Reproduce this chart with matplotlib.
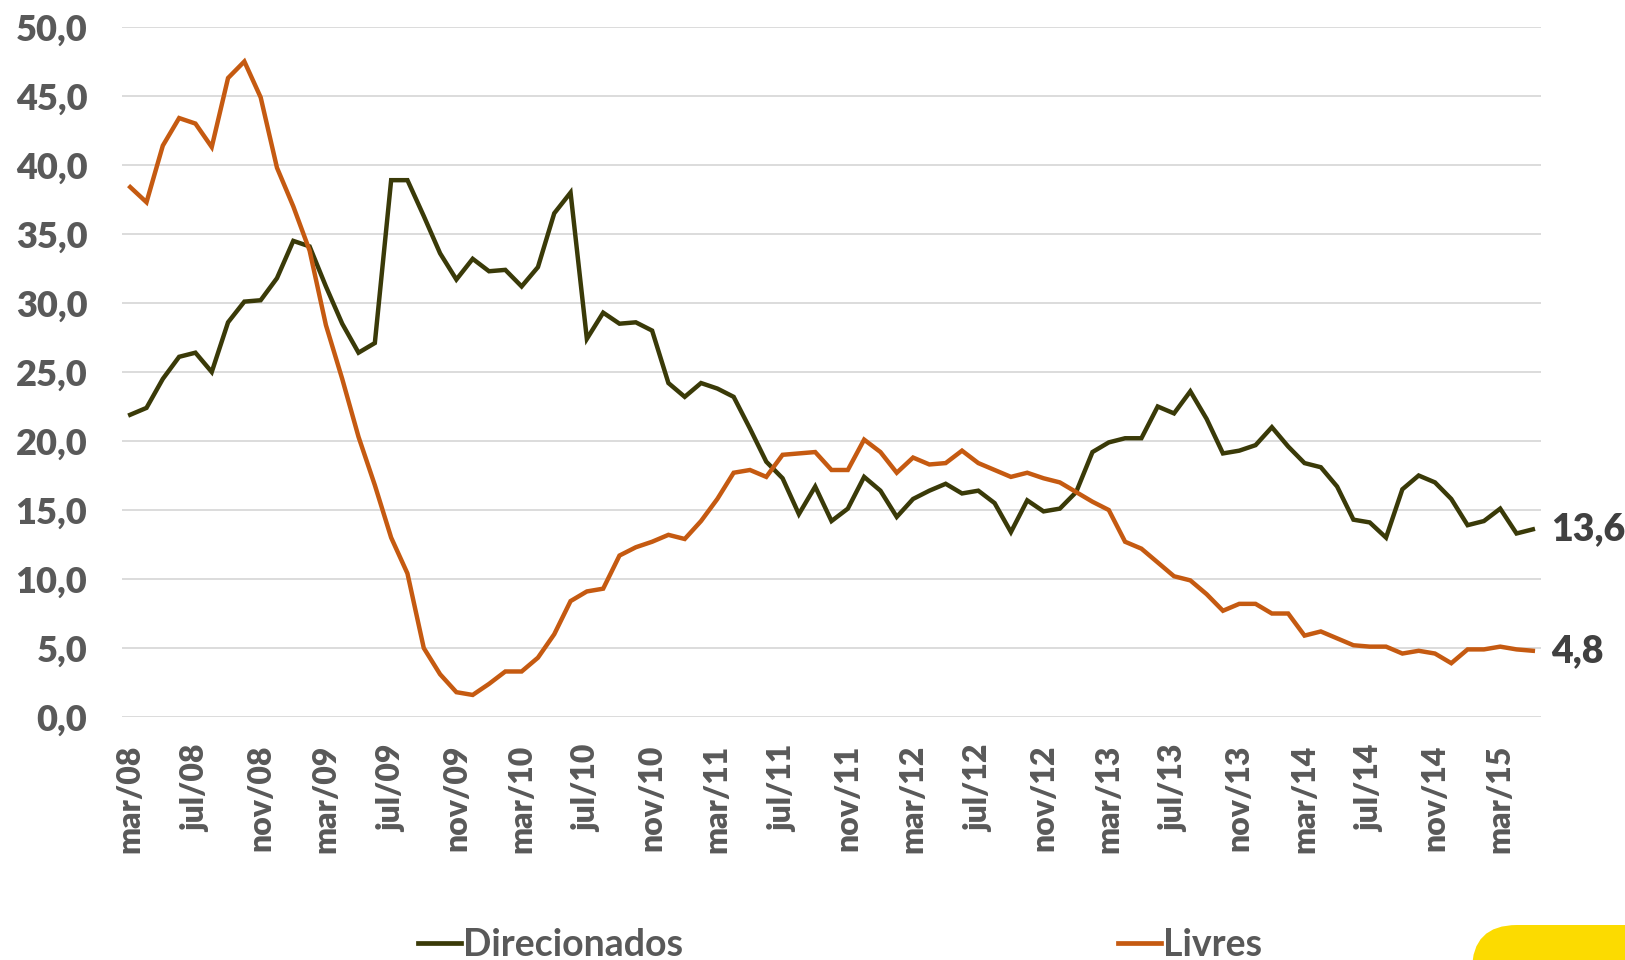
import matplotlib
matplotlib.use("Agg")
import matplotlib.pyplot as plt
from matplotlib.lines import Line2D
from matplotlib.patches import FancyBboxPatch

# Saldos mensais (mar/08 a mai/15), variação % em 12 meses
direcionados = [21.9, 22.4, 24.5, 26.1, 26.4, 25.0, 28.6, 30.1, 30.2, 31.8,
                34.5, 34.1, 31.2, 28.5, 26.4, 27.1, 38.9, 38.9, 36.3, 33.6,
                31.7, 33.2, 32.3, 32.4, 31.2, 32.6, 36.5, 38.0, 27.4, 29.3,
                28.5, 28.6, 28.0, 24.2, 23.2, 24.2, 23.8, 23.2, 20.9, 18.5,
                17.3, 14.7, 16.7, 14.2, 15.1, 17.4, 16.4, 14.5, 15.8, 16.4,
                16.9, 16.2, 16.4, 15.5, 13.4, 15.7, 14.9, 15.1, 16.3, 19.2,
                19.9, 20.2, 20.2, 22.5, 22.0, 23.6, 21.6, 19.1, 19.3, 19.7,
                21.0, 19.6, 18.4, 18.1, 16.7, 14.3, 14.1, 13.0, 16.5, 17.5,
                17.0, 15.8, 13.9, 14.2, 15.1, 13.3, 13.6]
livres = [38.4, 37.3, 41.4, 43.4, 43.0, 41.3, 46.3, 47.5, 44.9, 39.8,
          37.0, 33.8, 28.4, 24.5, 20.3, 16.8, 13.0, 10.4, 5.0, 3.1,
          1.8, 1.6, 2.4, 3.3, 3.3, 4.3, 6.0, 8.4, 9.1, 9.3,
          11.7, 12.3, 12.7, 13.2, 12.9, 14.2, 15.8, 17.7, 17.9, 17.4,
          19.0, 19.1, 19.2, 17.9, 17.9, 20.1, 19.2, 17.7, 18.8, 18.3,
          18.4, 19.3, 18.4, 17.9, 17.4, 17.7, 17.3, 17.0, 16.3, 15.6,
          15.0, 12.7, 12.2, 11.2, 10.2, 9.9, 8.9, 7.7, 8.2, 8.2,
          7.5, 7.5, 5.9, 6.2, 5.7, 5.2, 5.1, 5.1, 4.6, 4.8,
          4.6, 3.9, 4.9, 4.9, 5.1, 4.9, 4.8]
tick_labels = ["mar/08", "jul/08", "nov/08", "mar/09", "jul/09", "nov/09",
               "mar/10", "jul/10", "nov/10", "mar/11", "jul/11", "nov/11",
               "mar/12", "jul/12", "nov/12", "mar/13", "jul/13", "nov/13",
               "mar/14", "jul/14", "nov/14", "mar/15"]
y_ticks = [0, 5, 10, 15, 20, 25, 30, 35, 40, 45, 50]

cor_dir = "#3a3a08"
cor_liv = "#c55a11"
cinza = "#595959"
fonte = "Lato"

x = list(range(len(direcionados)))

fig = plt.figure(figsize=(16.25, 9.6), dpi=100)
ax = fig.add_axes([0.0751, 0.2531, 0.8732, 0.7188])

ax.plot(x, direcionados, color=cor_dir, lw=3.2, solid_joinstyle="miter")
ax.plot(x, livres, color=cor_liv, lw=3.2, solid_joinstyle="miter")

ax.set_xlim(-0.5, len(x) - 0.5)
ax.set_ylim(0, 50)
ax.set_yticks(y_ticks)
ax.set_yticklabels([f"{v:.1f}".replace(".", ",") for v in y_ticks],
                   fontsize=26, fontweight="heavy", color=cinza, family=fonte)
ax.set_xticks(x[::4])
ax.set_xticklabels(tick_labels, rotation=90, fontsize=23, fontweight="heavy",
                   color=cinza, family=fonte)
ax.tick_params(axis="y", length=0, pad=25)
ax.tick_params(axis="x", length=0, pad=20)
ax.grid(axis="y", color="#d9d9d9", lw=1.3)
ax.set_axisbelow(True)
for s in ax.spines.values():
    s.set_visible(False)

# valores finais de cada série
for serie in (direcionados, livres):
    ax.annotate(f"{serie[-1]:.1f}".replace(".", ","), xy=(x[-1], serie[-1]),
                xytext=(13, 0), textcoords="offset points", va="center",
                ha="left", fontsize=27, fontweight="heavy", color="#404040",
                family=fonte, annotation_clip=False)

# legenda em duas partes, bem separadas
for nome, cor, xpos in (("Direcionados", cor_dir, 418 / 1625),
                        ("Livres", cor_liv, 1118 / 1625)):
    h = Line2D([], [], color=cor, lw=3.4)
    fig.legend([h], [nome], loc="center left", bbox_to_anchor=(xpos, 0.016),
               frameon=False, handlelength=1.15, handletextpad=0.06,
               borderpad=0, borderaxespad=0,
               prop={"family": fonte, "weight": "bold", "size": 27},
               labelcolor=cinza)

# detalhe amarelo no canto
fig.add_artist(FancyBboxPatch((14.72, -0.6), 3.0, 0.95,
                              boxstyle="round,pad=0,rounding_size=0.45",
                              transform=fig.dpi_scale_trans,
                              facecolor="#fcdb00", edgecolor="none"))

fig.savefig("out.png", dpi=100)
